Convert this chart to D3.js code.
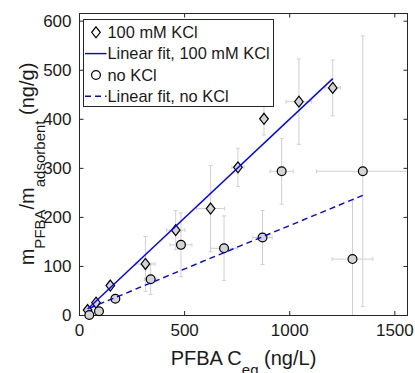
<!DOCTYPE html>
<html>
<head>
<meta charset="utf-8">
<script src="https://cdn.jsdelivr.net/npm/d3@7"></script>
<style>
  html, body { margin: 0; padding: 0; background: #fff; }
  svg { display: block; }
  text { font-family: "Liberation Sans", Arial, Helvetica, sans-serif; fill: #1a1a1a; }
</style>
</head>
<body>
<svg id="chart" width="415" height="373"></svg>
<script>
// ---- Data ----
const kclX    = [41, 81, 149, 316, 460, 626, 756, 880, 1046, 1207];
const kclY    = [10, 25, 60, 104, 173, 217, 301, 400, 435, 463];
const kclXErr = [6, 8, 10, 45, 44, 67, 29, 19, 61, 37];
const kclYErr = [4, 5, 6, 56, 40, 88, 39, 33, 87, 57];

const noX     = [49, 95, 173, 341, 485, 690, 873, 964, 1301, 1350];
const noY     = [0, 7.5, 33, 73, 143, 136, 158, 293, 114, 293];
const noXErr  = [5, 8, 10, 30, 52, 63, 46, 55, 97, 220];
const noYErr  = [3, 4, 5, 31, 65, 66, 55, 67, 119, 276];

// linear fits: [slope, intercept]
const fitKCl = [0.403, -4.5];
const fitNo  = [0.177, 5.0];

const xTicks = [0, 500, 1000, 1500];
const yTicks = [0, 100, 200, 300, 400, 500, 600];
const legendLabels = ["100 mM KCl", "Linear fit, 100 mM KCl", "no KCl", "Linear fit, no KCl"];

// ---- Layout ----
const svg = d3.select("#chart");
const L = 79, R = 408, T = 13, B = 315;
const x = d3.scaleLinear().domain([0, 1565]).range([L, R]);
const y = d3.scaleLinear().domain([0, 615.7]).range([B, T]);

const axisColor = "#262626";
const errColor = "#cfcfcf";
const markerFill = "#d4d4d4";
const blue = "#0000ff";

svg.append("defs").append("clipPath").attr("id", "plotclip")
  .append("rect").attr("x", L).attr("y", T).attr("width", R - L).attr("height", B - T);

function pts(xs, ys, xe, ye) {
  return xs.map((v, i) => ({x: v, y: ys[i], xe: xe[i], ye: ye[i]}));
}
const kcl = pts(kclX, kclY, kclXErr, kclYErr);
const nok = pts(noX, noY, noXErr, noYErr);

// ---- Error bars ----
const eg = svg.append("g").attr("clip-path", "url(#plotclip)")
  .attr("stroke", errColor).attr("stroke-width", 1).attr("fill", "none");
const cap = 2;
function drawErr(data) {
  data.forEach(d => {
    const cx = x(d.x), cy = y(d.y);
    const y1 = y(d.y + d.ye), y2 = y(d.y - d.ye);
    const x1 = x(d.x - d.xe), x2 = x(d.x + d.xe);
    eg.append("line").attr("x1", cx).attr("x2", cx).attr("y1", y1).attr("y2", y2);
    eg.append("line").attr("x1", cx - cap).attr("x2", cx + cap).attr("y1", y1).attr("y2", y1);
    eg.append("line").attr("x1", cx - cap).attr("x2", cx + cap).attr("y1", y2).attr("y2", y2);
    eg.append("line").attr("x1", x1).attr("x2", x2).attr("y1", cy).attr("y2", cy);
    eg.append("line").attr("x1", x1).attr("x2", x1).attr("y1", cy - cap).attr("y2", cy + cap);
    eg.append("line").attr("x1", x2).attr("x2", x2).attr("y1", cy - cap).attr("y2", cy + cap);
  });
}
drawErr(kcl);
drawErr(nok);

// ---- Axes box ----
const ag = svg.append("g");
ag.append("rect").attr("x", L + 0.5).attr("y", T + 0.5).attr("width", R - L - 1).attr("height", B - T)
  .attr("fill", "none").attr("stroke", axisColor).attr("stroke-width", 1);

const tickLen = 4;
const fmt = d3.format("d");
const xAxisB = d3.axisBottom(x).tickValues(xTicks).tickFormat(fmt).tickSizeInner(-tickLen).tickSizeOuter(0).tickPadding(9);
const xAxisT = d3.axisTop(x).tickValues(xTicks).tickSizeInner(-tickLen).tickSizeOuter(0).tickFormat("");
const yAxisL = d3.axisLeft(y).tickValues(yTicks).tickFormat(fmt).tickSizeInner(-tickLen).tickSizeOuter(0).tickPadding(8);
const yAxisR = d3.axisRight(y).tickValues(yTicks).tickSizeInner(-tickLen).tickSizeOuter(0).tickFormat("");

function styleAxis(g) {
  g.select(".domain").remove();
  g.selectAll(".tick line").attr("stroke", axisColor);
  g.selectAll(".tick text").attr("fill", "#1a1a1a").style("font-size", "17px")
    .style("font-family", '"Liberation Sans", Arial, sans-serif');
}
ag.append("g").attr("transform", `translate(0,${B})`).call(xAxisB).call(styleAxis);
ag.append("g").attr("transform", `translate(0,${T + 0.5})`).call(xAxisT).call(styleAxis);
ag.append("g").attr("transform", `translate(${L + 0.5},0)`).call(yAxisL).call(styleAxis);
ag.append("g").attr("transform", `translate(${R - 0.5},0)`).call(yAxisR).call(styleAxis);

// ---- Markers ----
const mg = svg.append("g");
const diamond = (cx, cy) => `M${cx},${cy - 5.5}L${cx + 4.3},${cy}L${cx},${cy + 5.5}L${cx - 4.3},${cy}Z`;
mg.selectAll("path.kcl").data(kcl).join("path").attr("class", "kcl")
  .attr("d", d => diamond(x(d.x), y(d.y)))
  .attr("fill", markerFill).attr("stroke", "#000").attr("stroke-width", 1.2);
mg.selectAll("circle.nok").data(nok).join("circle").attr("class", "nok")
  .attr("cx", d => x(d.x)).attr("cy", d => y(d.y)).attr("r", 4.4)
  .attr("fill", markerFill).attr("stroke", "#000").attr("stroke-width", 1.2);

// ---- Fit lines ----
function fitLine(xs, fit, dash) {
  const x0 = d3.min(xs), x1 = d3.max(xs);
  svg.append("line")
    .attr("x1", x(x0)).attr("y1", y(fit[0] * x0 + fit[1]))
    .attr("x2", x(x1)).attr("y2", y(fit[0] * x1 + fit[1]))
    .attr("stroke", blue).attr("stroke-width", 1.4)
    .attr("stroke-dasharray", dash ? "6,4" : null);
}
fitLine(kclX, fitKCl, false);
fitLine(noX, fitNo, true);

// ---- Legend ----
const lg = svg.append("g");
lg.append("rect").attr("x", 83.5).attr("y", 19.5).attr("width", 190).attr("height", 87)
  .attr("fill", "#fff").attr("stroke", axisColor).attr("stroke-width", 1);
const rowY = [32.3, 53.6, 75, 96.3];
legendLabels.forEach((lab, i) => {
  const cy = rowY[i];
  if (i === 0) {
    lg.append("path").attr("d", diamond(96, cy)).attr("fill", "#fff").attr("stroke", "#000").attr("stroke-width", 1.2);
  } else if (i === 2) {
    lg.append("circle").attr("cx", 96).attr("cy", cy).attr("r", 4.4).attr("fill", "#fff").attr("stroke", "#000").attr("stroke-width", 1.2);
  } else {
    lg.append("line").attr("x1", 85).attr("x2", 106.5).attr("y1", cy).attr("y2", cy)
      .attr("stroke", blue).attr("stroke-width", 1.4).attr("stroke-dasharray", i === 3 ? "6,4" : null);
  }
  lg.append("text").attr("x", 107.5).attr("y", cy).attr("dy", "0.35em")
    .style("font-size", "16.4px").text(lab);
});

// ---- Axis labels ----
const xl = svg.append("text").attr("x", (L + R) / 2).attr("y", 365)
  .attr("text-anchor", "middle").style("font-size", "20px");
xl.append("tspan").text("PFBA C");
xl.append("tspan").attr("dy", 10).style("font-size", "15px").text("eq");
xl.append("tspan").attr("dy", -10).text(" (ng/L)");

const yl = svg.append("text").attr("transform", `translate(34,${(T + B) / 2}) rotate(-90)`)
  .attr("text-anchor", "middle").style("font-size", "20px");
yl.append("tspan").text("m");
yl.append("tspan").attr("dy", 11).style("font-size", "15px").text("PFBA");
yl.append("tspan").attr("dy", -11).text("/m");
yl.append("tspan").attr("dy", 11).style("font-size", "15px").text("adsorbent");
yl.append("tspan").attr("dy", -11).text(" (ng/g)");
</script>
</body>
</html>
